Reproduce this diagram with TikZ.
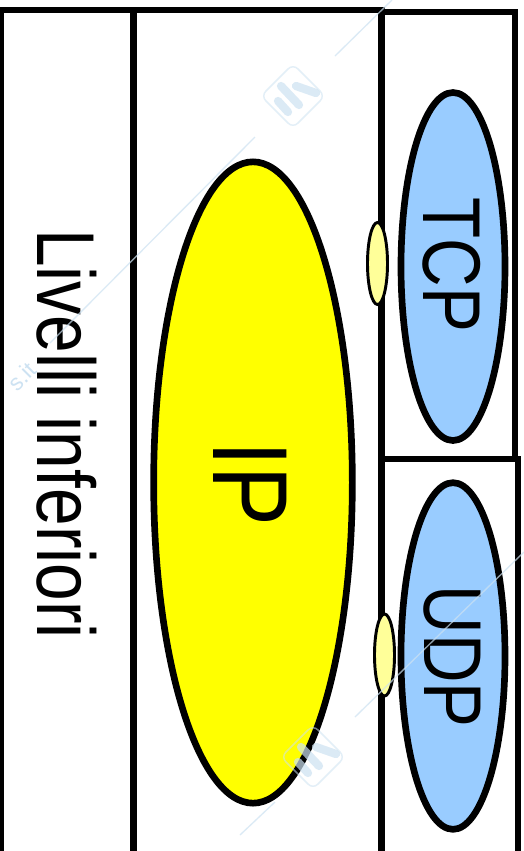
\documentclass[tikz,border=0pt]{standalone}
\usepackage{fontspec}
\usetikzlibrary{shapes.geometric}
\setmainfont{Liberation Sans}
\definecolor{ipyellow}{RGB}{255,255,0}
\definecolor{blueoval}{RGB}{153,204,255}
\definecolor{paleoval}{RGB}{255,255,153}
\definecolor{wmark}{RGB}{205,226,242}
\tikzset{
  px/.style={x=0.75pt,y=-0.75pt},
  frameline/.style={draw=black,line width=5.1pt,line cap=rect},
  bigoval/.style={ellipse,draw=black,line width=5pt,inner sep=0pt,outer sep=0pt},
  portoval/.style={ellipse,draw=black,line width=2.2pt,fill=paleoval,inner sep=0pt,outer sep=0pt,minimum width=15pt,minimum height=61.5pt},
  lbl/.style={rotate=-90,inner sep=0pt,outer sep=0pt,text=black},
  wmline/.style={draw=wmark,line width=1pt,opacity=.7},
  wmbox/.style={draw=wmark,line width=1.1pt,opacity=.55,rounded corners=5pt},
  wmstroke/.style={draw=wmark,line width=6.2pt,line cap=round,opacity=.7}
}
\newcommand{\wmlogo}[2]{%
  \draw[wmbox] (#1-32,#2) -- (#1,#2-32) -- (#1+32,#2) -- (#1,#2+32) -- cycle;
  \draw[wmstroke] (#1-15,#2+5) -- (#1-5,#2+16);
  \draw[wmstroke] (#1-12,#2-10) -- (#1+6,#2+9);
  \draw[wmstroke] (#1+3,#2-10) -- (#1+23,#2-3);
}
\begin{document}
\begin{tikzpicture}[px]
\clip (0,0) rectangle (524,851);
\fill[white] (0,0) rectangle (524,851);
% frames
\draw[frameline] (1,851) -- (1,10) -- (381.5,10);
\draw[frameline] (133.5,10) -- (133.5,851);
\draw[frameline] (381.5,10) -- (381.5,851);
\draw[frameline] (381.5,12) -- (515,12) -- (515,459);
\draw[frameline] (381,459) -- (518,459) -- (518,851);
% ovals
\node[bigoval,fill=ipyellow,minimum width=149pt,minimum height=481pt] (ip) at (253,482.5) {};
\node[bigoval,fill=blueoval,minimum width=78pt,minimum height=261pt] (tcp) at (453,266.5) {};
\node[bigoval,fill=blueoval,minimum width=78pt,minimum height=260pt] (udp) at (453,656) {};
\node[portoval] (tcpport) at (377.5,263.5) {};
\node[portoval] (udpport) at (384.5,655) {};
% labels
\node[lbl] (iptext) at (250.5,484) {\scalebox{.84}[1]{\fontsize{80pt}{80pt}\selectfont IP}};
\node[lbl] (tcptext) at (452,265) {\scalebox{.82}[1]{\fontsize{61.5pt}{62pt}\selectfont TCP}};
\node[lbl] (udptext) at (452,656.5) {\scalebox{.82}[1]{\fontsize{61.5pt}{62pt}\selectfont UDP}};
\node[lbl] (lowertext) at (66.5,434) {\scalebox{.825}[1]{\fontsize{61.5pt}{62pt}\selectfont Livelli inferiori}};
% watermark
\draw[wmline] (335,56) -- (392,0);
\draw[wmline] (255,137) -- (50,343);
\draw[wmline] (355,717) -- (524,552);
\draw[wmline] (240,835) -- (275,802);
\wmlogo{293}{96}
\wmlogo{313}{757}
\node[rotate=45,anchor=east,inner sep=0pt,text=wmark] (wmtext) at (32,366) {\fontsize{17pt}{17pt}\selectfont s.it};
\end{tikzpicture}
\end{document}
